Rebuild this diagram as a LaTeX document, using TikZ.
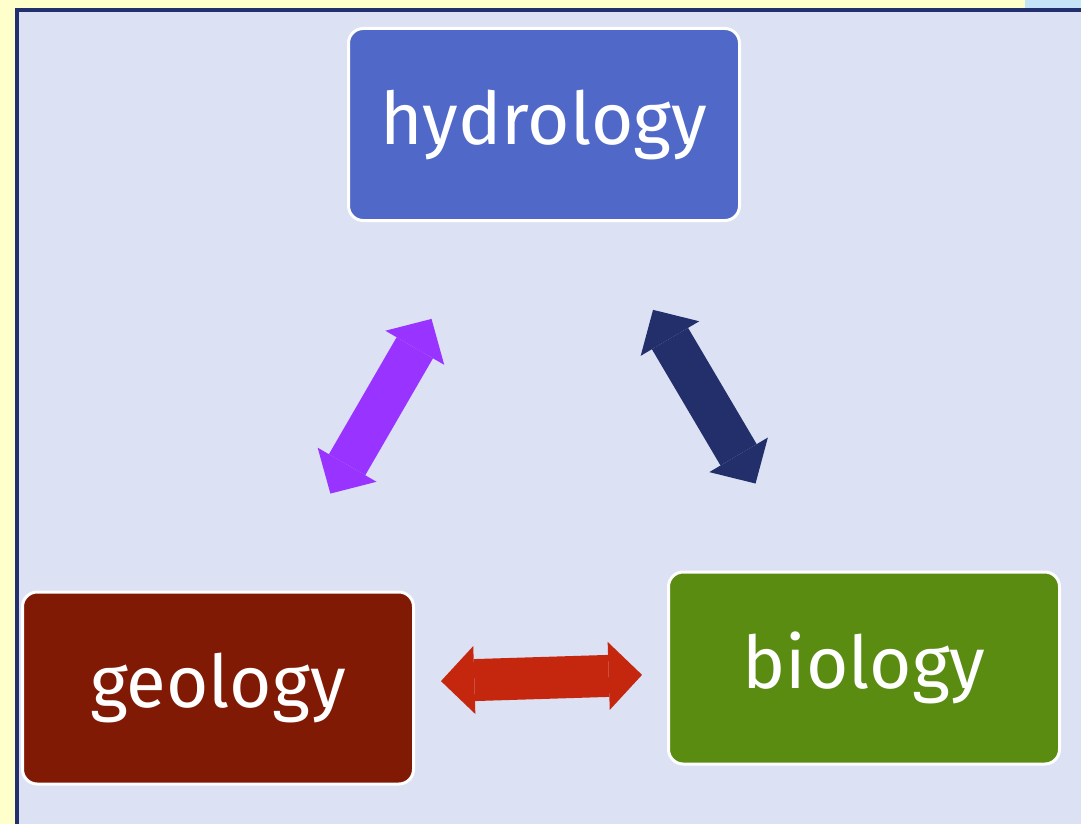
\documentclass[tikz,border=0pt]{standalone}
\usepackage{fontspec}
\setmainfont{Fira Sans}
\usepackage{tikz}
\usetikzlibrary{arrows.meta}
\definecolor{paper}{HTML}{FFFFCC}
\definecolor{sky}{HTML}{C6E4F8}
\definecolor{panel}{HTML}{DCE1F3}
\definecolor{frame}{HTML}{22306E}
\definecolor{hydblue}{HTML}{5068C8}
\definecolor{geored}{HTML}{801A05}
\definecolor{biogreen}{HTML}{5A8C12}
\definecolor{violet}{HTML}{9933FF}
\definecolor{navy}{HTML}{222F6B}
\definecolor{brick}{HTML}{C4260E}

\begin{document}
\begin{tikzpicture}[x=0.75pt, y=-0.75pt,
  field/.style = {draw=white, line width=2.25pt, rounded corners=11pt, minimum width=293.25pt, minimum height=144pt, text=white, font=\fontsize{54.5}{66}\selectfont},
  link/.style = {line width=31.5pt, >={Triangle[length=25pt, width=51pt, line width=0pt]}, <->}]
\useasboundingbox (0,0) rectangle (1081,824);
\fill[paper] (0,0) rectangle (1081,824);
\fill[sky] (1025,0) rectangle (1081,8);
\draw[frame, fill=panel, line width=3pt] (17,10) rectangle (1100,840);
\node[field, fill=hydblue] (hyd) at (544,124.5) {hydrology};
\node[field, fill=geored] (geo) at (218,688) {geology};
\node[field, fill=biogreen] (bio) at (864,668) {biology};
\draw[link, violet, shorten <=84pt, shorten >=84pt] (geo) -- (hyd);
\draw[link, navy, shorten <=76.5pt, shorten >=75.75pt] (hyd) -- (bio);
\draw[link, brick, shorten <=19.5pt, shorten >=18.75pt] (geo) -- (bio);
\end{tikzpicture}
\end{document}
